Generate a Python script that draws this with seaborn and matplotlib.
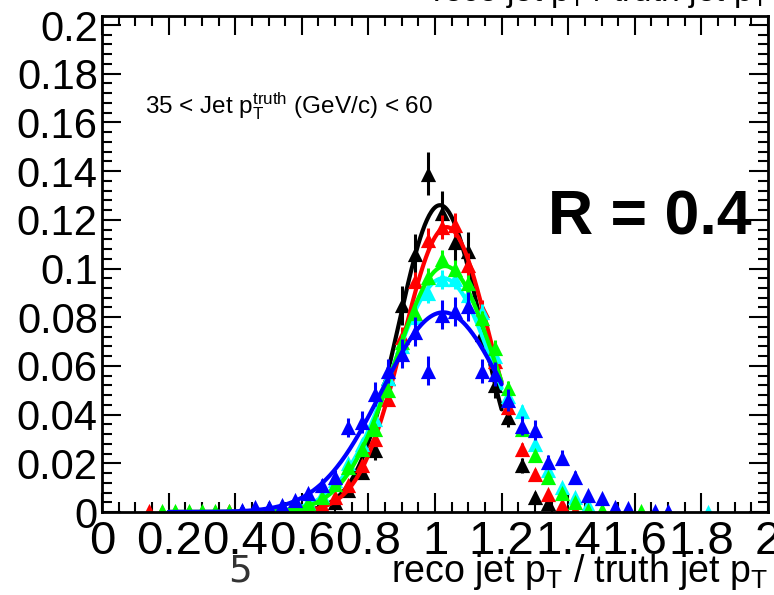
import numpy as np
import pandas as pd
import seaborn as sns
import matplotlib
matplotlib.use("Agg")
import matplotlib.pyplot as plt
from matplotlib.ticker import MultipleLocator

sns.set_theme(style="ticks")
plt.rcParams['font.family'] = ['Liberation Sans', 'DejaVu Sans']
plt.rcParams['mathtext.fontset'] = 'custom'
plt.rcParams['mathtext.rm'] = 'Liberation Sans'
plt.rcParams['mathtext.it'] = 'Liberation Sans'
plt.rcParams['text.color'] = 'black'

nan = np.nan
# bin centres of reco/truth ratio
bins = [0.14, 0.18, 0.22, 0.26, 0.30, 0.34, 0.38, 0.42, 0.46, 0.50, 0.54,
        0.58, 0.62, 0.66, 0.70, 0.74, 0.78, 0.82, 0.86, 0.90, 0.94, 0.98,
        1.02, 1.06, 1.10, 1.14, 1.18, 1.22, 1.26, 1.30, 1.34, 1.38, 1.42,
        1.46, 1.50, 1.54, 1.58, 1.62, 1.66, 1.70, 1.74, 1.78, 1.82]

black = [nan, nan, nan, nan, nan, nan, nan, nan, nan, nan, nan,
         0.0005, 0.001, 0.002, 0.004, 0.009, 0.0165, 0.0253, 0.055, 0.085, 0.106, 0.139,
         0.123, 0.111, 0.107, 0.073, 0.052, 0.0389, 0.0192, 0.0062, 0.0035, nan, nan,
         nan, nan, nan, nan, nan, nan, nan, nan, nan, nan]
black_err = [0, 0, 0, 0, 0, 0, 0, 0, 0, 0, 0,
             0.0005, 0.0008, 0.001, 0.0015, 0.002, 0.003, 0.004, 0.006, 0.008, 0.008, 0.009,
             0.009, 0.008, 0.008, 0.006, 0.005, 0.004, 0.003, 0.002, 0.0015, 0, 0,
             0, 0, 0, 0, 0, 0, 0, 0, 0, 0]

red = [0.0005, 0.0002, 0.0002, 0.0002, 0.0002, 0.0002, 0.0003, 0.0003, 0.0005, 0.0007, 0.001,
       0.0015, 0.002, 0.003, 0.006, 0.011, 0.0192, 0.030, 0.0464, 0.072, 0.0947, 0.1117,
       0.117, 0.118, 0.1015, 0.083, 0.062, 0.043, 0.026, 0.0158, 0.0073, 0.0029, 0.0005,
       nan, nan, nan, nan, nan, nan, nan, nan, nan, nan]
red_err = [0, 0, 0, 0, 0, 0, 0, 0, 0, 0, 0,
           0.0004, 0.0005, 0.0006, 0.001, 0.0015, 0.002, 0.0025, 0.003, 0.004, 0.004, 0.005,
           0.005, 0.005, 0.005, 0.004, 0.004, 0.003, 0.0025, 0.002, 0.0012, 0.0008, 0.0003,
           0, 0, 0, 0, 0, 0, 0, 0, 0, 0]

green = [nan, 0.0003, 0.0003, 0.0003, 0.0003, 0.0003, 0.0003, 0.0005, 0.001, 0.0015, 0.0025,
         0.003, 0.0035, 0.0062, 0.0117, 0.0185, 0.026, 0.034, 0.050, 0.070, 0.0818, 0.0967,
         0.104, 0.100, 0.094, 0.0797, 0.0675, 0.0511, 0.0341, 0.0233, 0.0144, 0.008, 0.0042,
         0.0008, 0.0008, 0.0005, 0.0003, 0.0003, nan, nan, nan, nan, nan]
green_err = [0, 0, 0, 0, 0, 0, 0, 0, 0, 0, 0,
             0.0004, 0.0005, 0.0006, 0.001, 0.0012, 0.0015, 0.002, 0.0025, 0.003, 0.003, 0.0035,
             0.0035, 0.0035, 0.0035, 0.003, 0.003, 0.0025, 0.002, 0.0015, 0.0012, 0.0008, 0.0006,
             0.0003, 0.0003, 0.0002, 0.0002, 0.0002, 0, 0, 0, 0, 0]

cyan = [nan, nan, nan, nan, nan, nan, nan, 0.0004, 0.001, 0.0015, 0.002,
        0.003, 0.004, 0.007, 0.013, 0.020, 0.028, 0.038, 0.055, 0.068, 0.080, 0.090,
        0.0955, 0.0955, 0.089, 0.082, 0.064, 0.0478, 0.0416, 0.028, 0.0171, 0.0103, 0.0062,
        0.0029, nan, nan, nan, nan, nan, nan, nan, nan, 0.0002]
cyan_err = [0, 0, 0, 0, 0, 0, 0, 0, 0, 0, 0,
            0.0005, 0.0006, 0.0008, 0.0012, 0.0015, 0.002, 0.0025, 0.003, 0.0035, 0.0035, 0.004,
            0.004, 0.004, 0.004, 0.0035, 0.003, 0.003, 0.0025, 0.002, 0.0015, 0.001, 0.0008,
            0.0005, 0, 0, 0, 0, 0, 0, 0, 0, 0]

blue = [nan, nan, nan, nan, nan, nan, nan, 0.001, 0.002, 0.002, 0.003,
        0.005, 0.0076, 0.011, 0.0144, 0.0348, 0.0369, 0.0484, 0.058, 0.065, 0.074, 0.058,
        0.081, 0.0824, 0.0845, 0.058, 0.0567, 0.046, 0.0355, 0.0337, 0.0205, 0.0223, 0.0142,
        0.0069, 0.0056, 0.0022, 0.0016, nan, 0.0003, 0.0003, nan, nan, nan]
blue_err = [0, 0, 0, 0, 0, 0, 0, 0.0006, 0.001, 0.001, 0.0012,
            0.0015, 0.002, 0.0025, 0.003, 0.004, 0.0045, 0.005, 0.005, 0.006, 0.006, 0.006,
            0.006, 0.006, 0.006, 0.005, 0.005, 0.0045, 0.004, 0.004, 0.003, 0.003, 0.0025,
            0.0015, 0.0015, 0.001, 0.0008, 0, 0.0003, 0.0003, 0, 0, 0]

# Gaussian fit parameters (amplitude, mean, sigma) per series
fit_amp = [0.126, 0.117, 0.101, 0.096, 0.082]
fit_mean = [1.015, 1.035, 1.03, 1.025, 1.025]
fit_sigma = [0.125, 0.131, 0.151, 0.155, 0.185]
fit_range = [0.2, 1.2]

series_names = ["black", "red", "cyan", "green", "blue"]
series_vals = [black, red, cyan, green, blue]
series_errs = [black_err, red_err, cyan_err, green_err, blue_err]
fit_index = {"black": 0, "red": 1, "green": 2, "cyan": 3, "blue": 4}
colors = {"black": "#000000", "red": "#ff0000", "green": "#00ff00",
          "cyan": "#00ffff", "blue": "#0000ff"}

fig = plt.figure(figsize=(7.74, 5.95), dpi=100)
ax = fig.add_axes([102/774, 1 - 512/595, (768-102)/774, (512-16)/595])

for k, (name, vals, errs) in enumerate(zip(series_names, series_vals, series_errs)):
    df = pd.DataFrame({"x": bins, "y": vals, "e": errs}).dropna()
    c = colors[name]
    z = 3 + 3 * k
    ax.errorbar(df["x"], df["y"], yerr=df["e"], fmt="none", ecolor=c,
                elinewidth=2.2, capsize=0, zorder=z)
    sns.scatterplot(data=df, x="x", y="y", marker="^", s=120, color=c,
                    edgecolor=c, linewidth=0, ax=ax, zorder=z + 1, legend=False)
    i = fit_index[name]
    xf = np.linspace(fit_range[0], fit_range[1], 300)
    yf = fit_amp[i] * np.exp(-0.5 * ((xf - fit_mean[i]) / fit_sigma[i]) ** 2)
    sns.lineplot(x=xf, y=yf, color=c, linewidth=3.0, ax=ax, zorder=z + 2)

ax.set_xlim(0, 2)
ax.set_ylim(0, 0.2037)
ax.xaxis.set_minor_locator(MultipleLocator(0.05))
ax.yaxis.set_minor_locator(MultipleLocator(0.004))
ax.set_xticks([0, 0.2, 0.4, 0.6, 0.8, 1.0, 1.2, 1.4, 1.6, 1.8, 2.0])
ax.set_xticklabels(["0", "0.2", "0.4", "0.6", "0.8", "1", "1.2", "1.4", "1.6", "1.8", "2"])
ax.set_yticks([0, 0.02, 0.04, 0.06, 0.08, 0.1, 0.12, 0.14, 0.16, 0.18, 0.2])
ax.set_yticklabels(["0", "0.02", "0.04", "0.06", "0.08", "0.1", "0.12", "0.14",
                    "0.16", "0.18", "0.2"])
ax.tick_params(axis="both", which="both", direction="in", top=True, right=True,
               colors="black", width=1.5)
ax.tick_params(axis="both", which="major", length=14)
ax.tick_params(axis="both", which="minor", length=7)
ax.tick_params(axis="x", which="major", pad=6, labelsize=34)
ax.tick_params(axis="y", which="major", pad=3, labelsize=30)
for sp in ax.spines.values():
    sp.set_color("black")
    sp.set_linewidth(2)
    sp.set_zorder(30)
ax.set_xlabel("")
ax.set_ylabel("")

fig.text(145/774, 1 - 106/595, r"35 < Jet p$_{\mathrm{T}}^{\mathrm{truth}}$ (GeV/c) < 60",
         fontsize=17.5, ha="left", va="center", color="black")
fig.text(752/774, 1 - 218/595, "R = 0.4", fontsize=45, fontweight="bold",
         ha="right", va="center", color="black")
fig.text(768/774, 1 - 572/595, r"reco jet p$_{\mathrm{T}}$ / truth jet p$_{\mathrm{T}}$",
         fontsize=27, ha="right", va="center", color="black")
fig.text(240/774, 1 - 572/595, "5", fontsize=27, ha="center", va="center",
         family="DejaVu Sans", color="#333333")
fig.text(768/774, 1 - 1/595, r"reco jet p$_{\mathrm{T}}$ / truth jet p$_{\mathrm{T}}$",
         fontsize=24, ha="right", va="baseline", color="black")

fig.savefig("out.png", dpi=100)
